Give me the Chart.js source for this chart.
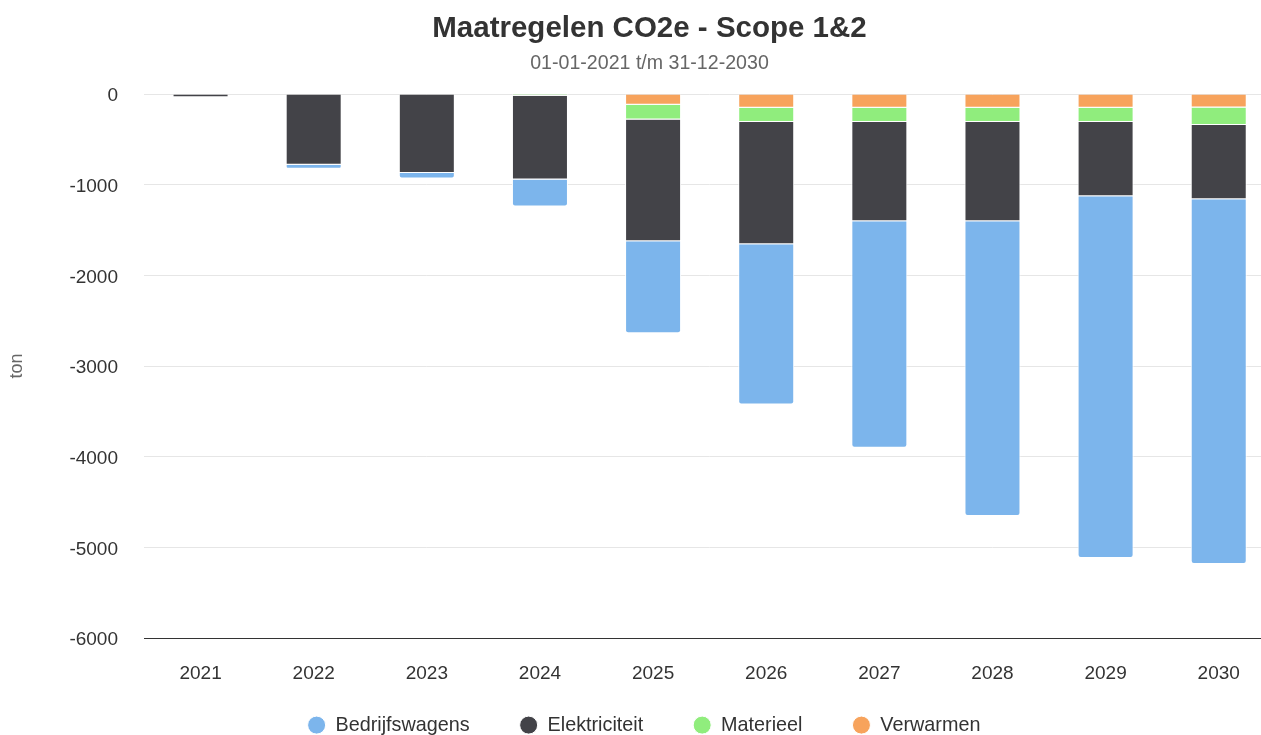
<!DOCTYPE html>
<html>
<head>
<meta charset="utf-8">
<script src="https://cdn.jsdelivr.net/npm/chart.js@4/dist/chart.umd.min.js"></script>
<style>
  html, body { margin: 0; padding: 0; overflow: hidden; background: #ffffff; }
  #wrap { width: 1299px; height: 767px; position: relative; }
</style>
</head>
<body>
<div id="wrap"><canvas id="chart"></canvas></div>
<script>
// ---- Data ----
const categories = ['2021', '2022', '2023', '2024', '2025', '2026', '2027', '2028', '2029', '2030'];
const bedrijfswagens = [0, -44, -62, -298, -1014, -1765, -2498, -3249, -3989, -4022];
const elektriciteit  = [-35, -781, -870, -925, -1344, -1348, -1094, -1094, -818, -818];
const materieel      = [0, 0, 0, -18, -162, -157, -157, -157, -157, -192];
const verwarmen      = [0, 0, 0, 0, -118, -152, -152, -152, -152, -150];
const yMin = -6000;
const yMax = 0;
const yStep = 1000;

const titleText = 'Maatregelen CO2e - Scope 1&2';
const subtitleText = '01-01-2021 t/m 31-12-2030';
const yAxisTitle = 'ton';

Chart.defaults.font.family = '"Liberation Sans", Arial, Helvetica, sans-serif';

const base = {
  borderColor: '#ffffff',
  borderWidth: 1,
  borderSkipped: 'start',
  categoryPercentage: 1,
  barPercentage: 0.495
};

// Places the bottom legend just under the x-axis labels (they share vertical room)
const legendPlacer = {
  id: 'legendPlacer',
  afterLayout(chart) {
    const lg = chart.legend;
    if (!lg) return;
    const h = lg.bottom - lg.top;
    lg.top = chart.chartArea.bottom + 27;
    lg.bottom = lg.top + h;
    lg.left -= 5.5;
    lg.right -= 5.5;
  }
};

new Chart(document.getElementById('chart'), {
  type: 'bar',
  data: {
    labels: categories,
    datasets: [
      Object.assign({ label: 'Verwarmen', data: verwarmen, backgroundColor: '#f7a35c' }, base),
      Object.assign({ label: 'Materieel', data: materieel, backgroundColor: '#90ed7d' }, base),
      Object.assign({ label: 'Elektriciteit', data: elektriciteit, backgroundColor: '#434348' }, base),
      Object.assign({ label: 'Bedrijfswagens', data: bedrijfswagens, backgroundColor: '#7cb5ec',
        borderRadius: { topLeft: 0, topRight: 0, bottomLeft: 3, bottomRight: 3 } }, base)
    ]
  },
  plugins: [legendPlacer],
  options: {
    responsive: true,
    maintainAspectRatio: false,
    animation: false,
    devicePixelRatio: 1,
    layout: { padding: { left: 23.7, right: 23.7, top: 0, bottom: 0 } },
    plugins: {
      title: {
        display: true,
        text: titleText,
        color: '#333333',
        font: { size: 29.5, weight: 'bold' },
        padding: { top: 11.3, bottom: 0 }
      },
      subtitle: {
        display: true,
        text: subtitleText,
        color: '#666666',
        font: { size: 19.6 },
        padding: { top: 5.5, bottom: 18.3 }
      },
      legend: {
        position: 'bottom',
        reverse: true,
        labels: {
          usePointStyle: true,
          pointStyle: 'circle',
          boxWidth: 18,
          boxHeight: 12.73,
          padding: 50,
          color: '#333333',
          font: { size: 19.8 }
        }
      },
      tooltip: { enabled: false }
    },
    scales: {
      x: {
        stacked: true,
        grid: { display: false, drawTicks: false },
        border: { display: true, color: '#333333', width: 1 },
        ticks: { padding: 24.5, color: '#333333', font: { size: 19 }, maxRotation: 0, autoSkip: false },
        afterFit: (s) => { s.height = 49; }
      },
      y: {
        stacked: true,
        min: yMin,
        max: yMax,
        ticks: {
          stepSize: yStep,
          padding: 26,
          labelOffset: 2,
          color: '#333333',
          font: { size: 19 },
          callback: (v) => String(v)
        },
        grid: { color: '#e6e6e6', lineWidth: 1, drawTicks: false },
        border: { display: false },
        title: {
          display: true,
          text: yAxisTitle,
          color: '#666666',
          font: { size: 18 },
          padding: { top: -17.5, bottom: 0 }
        },
        afterFit: (s) => { s.width = 120.3; }
      }
    }
  }
});
</script>
</body>
</html>
